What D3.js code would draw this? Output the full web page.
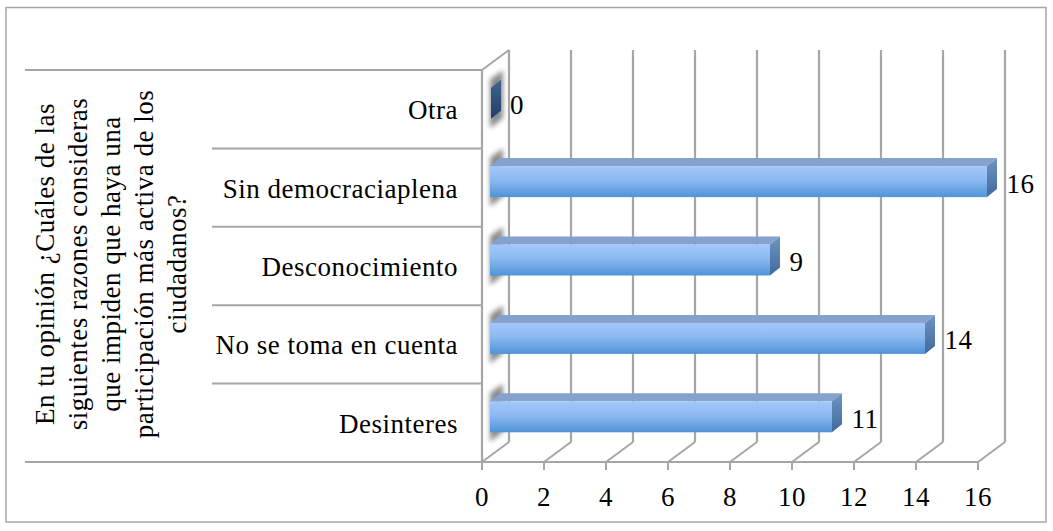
<!DOCTYPE html>
<html><head><meta charset="utf-8">
<script src="https://cdn.jsdelivr.net/npm/d3@7"></script>
<style>html,body{margin:0;padding:0;background:#fff}svg{display:block}text{font-family:"Liberation Serif",serif;fill:#000;font-size:27px;letter-spacing:.5px}</style>
</head><body><svg id="c" width="1053" height="531"></svg>
<script>
const categories=["Desinteres","No se toma en cuenta","Desconocimiento","Sin democraciaplena","Otra"];
const values=[11,14,9,16,0];
const xTicks=[0,2,4,6,8,10,12,14,16];
const axisTitle=["En tu opinión ¿Cuáles de las","siguientes razones consideras","que impiden que haya una","participación más activa de los","ciudadanos?"];
const svg=d3.select("#c");
const x=d3.scaleLinear().domain([0,16]).range([482,978]);
const y=d3.scaleBand().domain(categories).range([462,70]);
const DX=27,DY=-20,bdx=10,bdy=-8,grey="#a6a6a6";
const defs=svg.append("defs");
const grad=(id,stops,x2=0,y2=1)=>{const g=defs.append("linearGradient").attr("id",id).attr("x1",0).attr("y1",0).attr("x2",x2).attr("y2",y2);
 stops.forEach(s=>g.append("stop").attr("offset",s[0]).attr("stop-color",s[1]));};
grad("front",[[0,"#a3c8fb"],[.45,"#8cb9f0"],[1,"#4f94d8"]]);
grad("side",[[0,"#6f94c0"],[1,"#3f6a9e"]]);
grad("zero",[[0,"#3f6491"],[1,"#1f3f66"]]);
defs.append("filter").attr("id","blur").attr("x","-80%").attr("y","-30%").attr("width","260%").attr("height","160%").append("feGaussianBlur").attr("stdDeviation",2.8);
svg.append("rect").attr("x",6).attr("y",7.5).attr("width",1040).attr("height",514.5).attr("fill","#fff").attr("stroke",grey).attr("stroke-width",1.5);
const line=(x1,y1,x2,y2,w=2)=>svg.append("line").attr("x1",x1).attr("y1",y1).attr("x2",x2).attr("y2",y2).attr("stroke",grey).attr("stroke-width",w);
xTicks.forEach(v=>{const p=x(v);
 line(p+DX,50,p+DX,462+DY,2.2);
 line(p,462,p+DX,462+DY);
 line(p,462,p,470);
 svg.append("text").attr("x",p).attr("y",506).attr("text-anchor","middle").text(v);
});
line(482,70,482,462,2.2);
line(482,70,482+DX,50);
const seps=[...categories.map(c=>y(c)+y.bandwidth()),70];
seps.forEach((s,i)=>{const outer=i===0||i===seps.length-1;line(outer?25:212,s,482,s);});
line(482,462,978,462);
categories.forEach(c=>{
 const m=y(c)+y.bandwidth()/2;
 svg.append("path").attr("d",`M490,${m-30} L503,${m-39} L503,${m+9} L490,${m+19} Z`).attr("fill","#777").attr("opacity",.85).attr("filter","url(#blur)");
});
const barH=31;
categories.forEach((c,i)=>{
 const v=values[i],x0=490,x1=x0+(x(v)-x(0))+(v?1:0),m=y(c)+y.bandwidth()/2,t=m-21.5,b=t+barH;
 const g=svg.append("g");
 if(v>0){
  g.append("path").attr("d",`M${x0},${t} L${x0+bdx},${t+bdy} L${x1+bdx},${t+bdy} L${x1},${t} Z`).attr("fill","#84a2cc");
  g.append("path").attr("d",`M${x1},${t} L${x1+bdx},${t+bdy} L${x1+bdx},${b+bdy} L${x1},${b} Z`).attr("fill","url(#side)");
  g.append("rect").attr("x",x0).attr("y",t).attr("width",x1-x0).attr("height",barH).attr("fill","url(#front)");
 } else {
  g.append("path").attr("d",`M${x0+1},${t} L${x0+bdx+1},${t+bdy} L${x0+bdx+1},${b+bdy} L${x0+1},${b} Z`).attr("fill","url(#zero)");
 }
 svg.append("text").attr("x",x1+bdx+(v?9.5:10)).attr("y",(t+b)/2+bdy/2+15).text(v);
 svg.append("text").attr("x",458).attr("y",m+10).attr("text-anchor","end").text(c);
});
axisTitle.forEach((s,i)=>{
 svg.append("text").attr("transform",`translate(${54+i*33},264) rotate(-90)`).attr("text-anchor","middle").text(s);
});
</script></body></html>
